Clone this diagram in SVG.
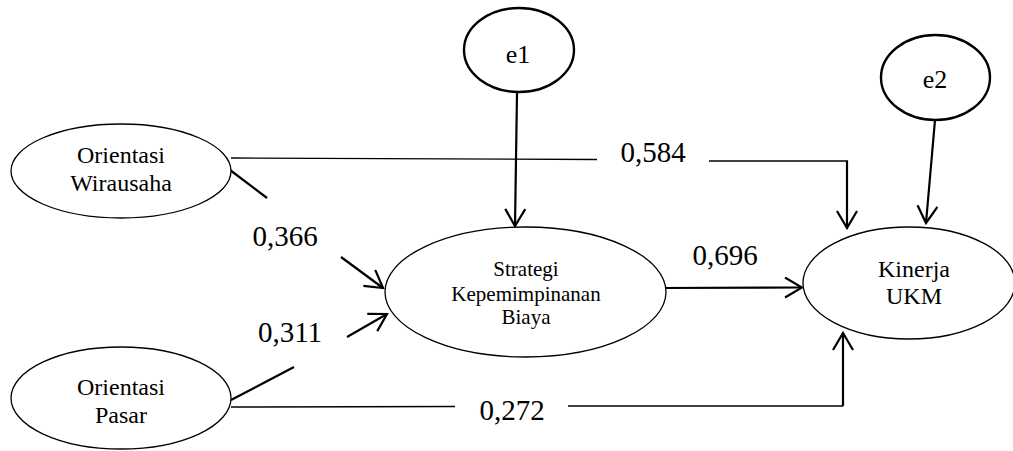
<svg xmlns="http://www.w3.org/2000/svg" width="1013" height="451" viewBox="0 0 1013 451">
  <style>
    .node { fill: #ffffff; stroke: #000000; stroke-width: 1.3; }
    .err { fill: #ffffff; stroke: #000000; stroke-width: 2.4; }
    .lbl { font-family: "Liberation Serif", "Times New Roman", serif; fill: #000000; text-anchor: middle; }
    .big { font-size: 24px; }
    .mid { font-size: 21px; }
    .coef { font-family: "Liberation Serif", "Times New Roman", serif; font-size: 29px; fill: #000000; text-anchor: middle; }
    .thin { fill: none; stroke: #000000; stroke-width: 1.4; }
    .arr { fill: none; stroke: #000000; stroke-width: 2.2; }
  </style>
  <defs>
    <marker id="head" viewBox="0 0 20 22" refX="18" refY="11" markerWidth="20" markerHeight="22" markerUnits="userSpaceOnUse" orient="auto">
      <path d="M1,1 L18,11 L1,21" fill="none" stroke="#000000" stroke-width="2.2"/>
    </marker>
  </defs>
  <rect width="1013" height="451" fill="#ffffff"/>

  <!-- connectors -->
  <g id="connectors">
    <!-- Orientasi Wirausaha -> Kinerja UKM (0,584) -->
    <path class="thin" d="M231,158 L597,159.5"/>
    <path class="thin" d="M709,161 L848,161"/>
    <path class="arr" d="M847,161 L847,228" marker-end="url(#head)"/>
    <!-- Orientasi Pasar -> Kinerja UKM (0,272) -->
    <path class="thin" d="M231,407 L455,406.5"/>
    <path class="thin" d="M568,406 L843,406"/>
    <path class="arr" d="M843,406 L843,333" marker-end="url(#head)"/>
    <!-- Orientasi Wirausaha -> Strategi (0,366) -->
    <path class="arr" d="M230,170 L267,198"/>
    <path class="arr" d="M341,257 L383,288" marker-end="url(#head)"/>
    <!-- Orientasi Pasar -> Strategi (0,311) -->
    <path class="arr" d="M231,400 L294,367"/>
    <path class="arr" d="M347,337 L387,314" marker-end="url(#head)"/>
    <!-- Strategi -> Kinerja UKM (0,696) -->
    <path class="arr" d="M660,288 L802,287.5" marker-end="url(#head)"/>
    <!-- error terms -->
    <path class="arr" d="M517,93 L515,226" marker-end="url(#head)"/>
    <path class="arr" d="M935,120 L926,223" marker-end="url(#head)"/>
  </g>

  <!-- path coefficients -->
  <g id="coefficients">
    <text class="coef" x="653" y="162">0,584</text>
    <text class="coef" x="285" y="246">0,366</text>
    <text class="coef" x="290" y="342">0,311</text>
    <text class="coef" x="725" y="265">0,696</text>
    <text class="coef" x="512" y="420">0,272</text>
  </g>

  <g id="orientasi-wirausaha">
    <ellipse class="node" cx="121" cy="171" rx="110" ry="47"/>
    <text class="lbl big" x="121" y="163">Orientasi</text>
    <text class="lbl big" x="121" y="191">Wirausaha</text>
  </g>

  <g id="orientasi-pasar">
    <ellipse class="node" cx="121" cy="398" rx="110" ry="51"/>
    <text class="lbl big" x="121" y="395">Orientasi</text>
    <text class="lbl big" x="121" y="423">Pasar</text>
  </g>

  <g id="strategi">
    <ellipse class="node" cx="525.5" cy="292" rx="140.5" ry="65"/>
    <text class="lbl mid" x="526" y="276">Strategi</text>
    <text class="lbl mid" x="526" y="301">Kepemimpinanan</text>
    <text class="lbl mid" x="526" y="324">Biaya</text>
  </g>

  <g id="kinerja-ukm">
    <ellipse class="node" cx="909" cy="283" rx="106" ry="56"/>
    <text class="lbl big" x="914" y="277">Kinerja</text>
    <text class="lbl big" x="914" y="304">UKM</text>
  </g>

  <g id="e1">
    <ellipse class="err" cx="519" cy="50" rx="55" ry="42"/>
    <text class="lbl" x="518" y="63" font-size="26">e1</text>
  </g>

  <g id="e2">
    <ellipse class="err" cx="935.5" cy="77.5" rx="54.5" ry="42.5"/>
    <text class="lbl" x="935" y="88" font-size="26">e2</text>
  </g>
</svg>
